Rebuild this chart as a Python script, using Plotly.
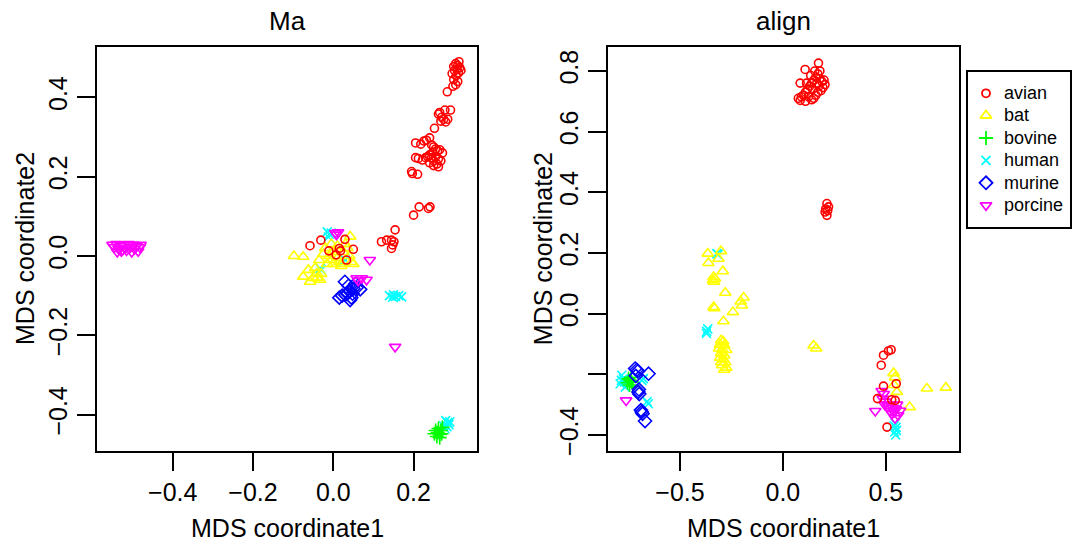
import plotly.graph_objects as go

# ---------------- data: MDS coordinates per host group ----------------
groups = ["avian", "bat", "bovine", "human", "murine", "porcine"]
colors = ["#FF0000", "#FFFF00", "#00FF00", "#00FFFF", "#0000FF", "#FF00FF"]
symbols = ["circle-open", "triangle-up-open", "cross-thin-open",
           "x-thin-open", "diamond-open", "triangle-down-open"]

# panel "Ma"
ma_avian_x = [0.300, 0.305, 0.310, 0.315, 0.308, 0.302, 0.312, 0.318, 0.296, 0.306,
              0.300, 0.310, 0.305, 0.298, 0.313, 0.284, 0.278, 0.292, 0.262, 0.270,
              0.275, 0.268, 0.280, 0.265, 0.285, 0.252, 0.205, 0.218, 0.226, 0.232,
              0.240, 0.245, 0.250, 0.255, 0.260, 0.265, 0.272, 0.248, 0.240, 0.235,
              0.245, 0.255, 0.262, 0.268, 0.250, 0.240, 0.258, 0.250, 0.205, 0.212,
              0.222, 0.230, 0.262, 0.195, 0.197, 0.210, 0.200, 0.214, 0.237, 0.241,
              0.154, 0.120, 0.133, 0.145, 0.145, 0.151, 0.148, -0.058, -0.031, -0.011,
              0.007, 0.015, 0.018, 0.029, 0.050, 0.033]
ma_avian_y = [0.478, 0.485, 0.480, 0.475, 0.470, 0.468, 0.462, 0.468, 0.460, 0.455,
              0.445, 0.440, 0.432, 0.428, 0.490, 0.414, 0.368, 0.368, 0.358, 0.350,
              0.345, 0.340, 0.338, 0.362, 0.345, 0.322, 0.285, 0.282, 0.290, 0.292,
              0.298, 0.280, 0.275, 0.270, 0.265, 0.268, 0.260, 0.262, 0.255, 0.250,
              0.248, 0.250, 0.245, 0.240, 0.240, 0.235, 0.232, 0.228, 0.248, 0.246,
              0.242, 0.248, 0.225, 0.213, 0.208, 0.206, 0.103, 0.124, 0.120, 0.124,
              0.066, 0.036, 0.040, 0.040, 0.019, 0.036, 0.028, 0.026, 0.040, 0.013,
              0.003, 0.019, 0.013, 0.042, 0.017, -0.010]
ma_bat_x = [-0.098, -0.075, -0.075, -0.058, -0.033, -0.041, -0.062, -0.050, -0.045, -0.030,
            -0.020, -0.025, -0.010, -0.005, 0.000, 0.005, 0.010, 0.015, 0.020, 0.025,
            0.030, 0.035, 0.042, 0.040, 0.045, 0.050, 0.020, -0.015, -0.005, 0.010,
            0.000, -0.035, -0.040]
ma_bat_y = [0.000, -0.002, -0.052, -0.065, -0.060, -0.044, -0.035, -0.055, -0.030, -0.045,
            0.020, 0.005, 0.000, -0.010, -0.020, 0.000, -0.005, -0.015, -0.020, 0.010,
            0.030, 0.020, 0.049, 0.000, -0.015, -0.020, -0.025, -0.020, 0.030, 0.025,
            0.010, -0.010, -0.055]
ma_bovine_x = [0.255, 0.260, 0.265, 0.258, 0.268, 0.262, 0.270, 0.252, 0.265, 0.272]
ma_bovine_y = [-0.440, -0.445, -0.450, -0.455, -0.440, -0.435, -0.448, -0.448, -0.458, -0.432]
ma_human_x = [-0.015, -0.010, -0.005, -0.012, -0.033, -0.030, 0.025, 0.030,
              0.140, 0.148, 0.155, 0.163, 0.170, 0.150,
              0.280, 0.285, 0.288, 0.283, 0.278, 0.290, 0.275]
ma_human_y = [0.061, 0.055, 0.058, 0.048, -0.031, -0.035, -0.014, -0.010,
              -0.100, -0.104, -0.102, -0.100, -0.103, -0.098,
              -0.415, -0.420, -0.425, -0.430, -0.435, -0.418, -0.428]
ma_murine_x = [0.029, 0.015, 0.022, 0.042, 0.045, 0.050, 0.058, 0.067, 0.035, 0.040,
               0.048, 0.055, 0.038, 0.030]
ma_murine_y = [-0.065, -0.105, -0.100, -0.111, -0.105, -0.082, -0.080, -0.084, -0.095, -0.088,
               -0.095, -0.070, -0.075, -0.098]
ma_porcine_x = [-0.550, -0.545, -0.540, -0.535, -0.530, -0.528, -0.522, -0.518, -0.515, -0.510,
                -0.505, -0.502, -0.498, -0.495, -0.490, -0.486, -0.482, -0.480, -0.538, -0.525,
                0.005, 0.008, 0.012, 0.058, 0.071, 0.083, 0.062, 0.091, 0.154]
ma_porcine_y = [0.028, 0.022, 0.030, 0.018, 0.025, 0.012, 0.028, 0.020, 0.014, 0.030,
                0.022, 0.010, 0.028, 0.018, 0.025, 0.012, 0.022, 0.028, 0.010, 0.015,
                0.058, 0.054, 0.060, -0.056, -0.056, -0.060, -0.062, -0.010, -0.229]

# panel "align"
al_avian_x = [0.173, 0.108, 0.084, 0.084, 0.075, 0.090, 0.100, 0.110, 0.120, 0.130,
              0.140, 0.150, 0.160, 0.170, 0.180, 0.190, 0.200, 0.205, 0.195, 0.185,
              0.170, 0.160, 0.150, 0.140, 0.125, 0.115, 0.135, 0.155, 0.180, 0.165,
              0.145, 0.175, 0.110,
              0.214, 0.222, 0.214, 0.205, 0.218, 0.208,
              0.526, 0.513, 0.489, 0.478, 0.551, 0.489, 0.460, 0.529, 0.546, 0.506]
al_avian_y = [0.826, 0.805, 0.760, 0.703, 0.710, 0.715, 0.720, 0.730, 0.740, 0.750,
              0.760, 0.770, 0.780, 0.790, 0.775, 0.765, 0.770, 0.755, 0.745, 0.735,
              0.730, 0.720, 0.710, 0.705, 0.715, 0.760, 0.785, 0.800, 0.800, 0.760,
              0.740, 0.750, 0.700,
              0.363, 0.352, 0.324, 0.335, 0.340, 0.345,
              -0.119, -0.123, -0.137, -0.170, -0.231, -0.239, -0.280, -0.284, -0.286, -0.374]
al_bat_x = [-0.365, -0.301, -0.362, -0.313, -0.337, -0.340, -0.330, -0.335, -0.292, -0.280,
            -0.337, -0.333, -0.191, -0.199, -0.205, -0.243, -0.289,
            -0.300, -0.290, -0.305, -0.285, -0.310, -0.295, -0.275, -0.300, -0.285, -0.305,
            -0.290, -0.280, -0.295, -0.275, -0.285, -0.300,
            0.149, 0.162,
            0.538, 0.554, 0.540, 0.616, 0.700, 0.792, 0.545]
al_bat_y = [0.198, 0.206, 0.167, 0.181, 0.121, 0.110, 0.115, 0.105, 0.140, 0.069,
            0.022, 0.018, 0.053, 0.027, 0.040, 0.005, -0.025,
            -0.088, -0.092, -0.102, -0.105, -0.115, -0.118, -0.120, -0.130, -0.138, -0.145,
            -0.150, -0.160, -0.170, -0.178, -0.185, -0.160,
            -0.105, -0.115,
            -0.196, -0.258, -0.235, -0.308, -0.247, -0.244, -0.210]
al_bovine_x = [-0.742, -0.750, -0.735, -0.745, -0.738, -0.755, -0.730]
al_bovine_y = [-0.220, -0.215, -0.225, -0.235, -0.210, -0.228, -0.240]
al_human_x = [-0.321, -0.315, -0.370, -0.365, -0.372,
              -0.783, -0.791, -0.766, -0.775, -0.785, -0.770, -0.678, -0.685, -0.654, -0.660,
              0.546, 0.550, 0.543, 0.548, 0.552, 0.540]
al_human_y = [0.198, 0.195, -0.058, -0.050, -0.065,
              -0.203, -0.231, -0.242, -0.215, -0.220, -0.225, -0.214, -0.220, -0.297, -0.290,
              -0.362, -0.375, -0.390, -0.400, -0.385, -0.370]
al_murine_x = [-0.718, -0.710, -0.705, -0.653, -0.715, -0.702, -0.700, -0.698, -0.686, -0.690,
               -0.682, -0.670]
al_murine_y = [-0.181, -0.185, -0.190, -0.198, -0.205, -0.258, -0.250, -0.265, -0.324, -0.318,
               -0.330, -0.354]
al_porcine_x = [-0.762, 0.449, 0.480, 0.490, 0.485, 0.495, 0.510, 0.520, 0.530, 0.540,
                0.550, 0.560, 0.545, 0.535, 0.525, 0.555, 0.570, 0.500]
al_porcine_y = [-0.286, -0.321, -0.255, -0.265, -0.280, -0.300, -0.305, -0.320, -0.330, -0.325,
                -0.315, -0.335, -0.345, -0.310, -0.300, -0.300, -0.320, -0.290]

ma_data = {
    "avian": (ma_avian_x, ma_avian_y), "bat": (ma_bat_x, ma_bat_y),
    "bovine": (ma_bovine_x, ma_bovine_y), "human": (ma_human_x, ma_human_y),
    "murine": (ma_murine_x, ma_murine_y), "porcine": (ma_porcine_x, ma_porcine_y),
}
al_data = {
    "avian": (al_avian_x, al_avian_y), "bat": (al_bat_x, al_bat_y),
    "bovine": (al_bovine_x, al_bovine_y), "human": (al_human_x, al_human_y),
    "murine": (al_murine_x, al_murine_y), "porcine": (al_porcine_x, al_porcine_y),
}

# tick labels
ma_xticks = [-0.4, -0.2, 0.0, 0.2]
ma_yticks = [-0.4, -0.2, 0.0, 0.2, 0.4]
al_xticks = [-0.5, 0.0, 0.5]
al_yticks = [-0.4, -0.2, 0.0, 0.2, 0.4, 0.6, 0.8]
al_ytick_text = ["\u22120.4", "", "0.0", "0.2", "0.4", "0.6", "0.8"]


def fmt(v, nd):
    s = f"{abs(v):.{nd}f}"
    return ("\u2212" + s) if v < 0 else s


# ---------------- figure ----------------
W, H = 1080, 543
FONT = "Liberation Sans, Arial, Helvetica, sans-serif"
sizes = {"circle-open": 8, "triangle-up-open": 10, "cross-thin-open": 10,
         "x-thin-open": 9, "diamond-open": 10, "triangle-down-open": 10}
style = {g: (c, s) for g, c, s in zip(groups, colors, symbols)}
draw_order = ["human", "bovine", "bat", "murine", "porcine", "avian"]

fig = go.Figure()
for data, xa, ya in [(ma_data, "x", "y"), (al_data, "x2", "y2")]:
    for g in draw_order:
        c, s = style[g]
        xs, ys = data[g]
        fig.add_trace(go.Scatter(
            x=xs, y=ys, mode="markers", name=g, showlegend=False,
            xaxis=xa, yaxis=ya,
            marker=dict(symbol=s, size=sizes[s], color=c,
                        line=dict(color=c, width=1.6)),
        ))

# legend drawn in its own small axis
leg_rows = [93.3, 115.5, 138.0, 160.3, 182.8, 205.3]
for g, yrow in zip(groups, leg_rows):
    c, s = style[g]
    fig.add_trace(go.Scatter(
        x=[986], y=[yrow], mode="markers", showlegend=False,
        xaxis="x3", yaxis="y3",
        marker=dict(symbol=s, size=sizes[s], color=c, line=dict(color=c, width=1.8)),
    ))

axis_common = dict(
    showgrid=False, zeroline=False, showline=True, mirror=True,
    linecolor="black", linewidth=2, ticks="outside", ticklen=18, tickwidth=2,
    tickcolor="black", tickfont=dict(family=FONT, size=25, color="black"),
    automargin=False,
)

L1, R1, T1, B1 = 97, 477, 47, 451
L2, R2, T2, B2 = 608.3, 959, 46.7, 450.7

fig.update_layout(
    width=W, height=H, margin=dict(l=0, r=0, t=0, b=0),
    paper_bgcolor="white", plot_bgcolor="white",
    xaxis=dict(domain=[L1 / W, R1 / W], range=[-0.5886, 0.358], anchor="y",
               tickvals=ma_xticks, ticktext=[fmt(v, 1) for v in ma_xticks], **axis_common),
    yaxis=dict(domain=[1 - B1 / H, 1 - T1 / H], range=[-0.4916, 0.527], anchor="x",
               tickvals=ma_yticks, ticktext=[fmt(v, 1) for v in ma_yticks],
               tickangle=-90, **axis_common),
    xaxis2=dict(domain=[L2 / W, R2 / W], range=[-0.8486, 0.856], anchor="y2",
                tickvals=al_xticks, ticktext=[fmt(v, 1) for v in al_xticks], **axis_common),
    yaxis2=dict(domain=[1 - B2 / H, 1 - T2 / H], range=[-0.4518, 0.880], anchor="x2",
                tickvals=al_yticks, ticktext=al_ytick_text, tickangle=-90, **axis_common),
    xaxis3=dict(domain=[968 / W, 1070 / W], range=[968, 1070], anchor="y3",
                showline=True, mirror=True, linecolor="black", linewidth=2,
                showgrid=False, zeroline=False, showticklabels=False, ticks=""),
    yaxis3=dict(domain=[1 - 227 / H, 1 - 71.7 / H], range=[227, 71.7], anchor="x3",
                showline=True, mirror=True, linecolor="black", linewidth=2,
                showgrid=False, zeroline=False, showticklabels=False, ticks=""),
)

ann = []
for g, yrow in zip(groups, leg_rows):
    ann.append(dict(x=1002, y=yrow, xref="x3", yref="y3", text=g, showarrow=False,
                    xanchor="left", yanchor="middle",
                    font=dict(family=FONT, size=18, color="black")))
# panel titles
for txt, cx in [("Ma", (L1 + R1) / 2), ("align", (L2 + R2) / 2)]:
    ann.append(dict(x=cx / W, y=1 - 21 / H, xref="paper", yref="paper", text=txt,
                    showarrow=False, xanchor="center", yanchor="middle",
                    font=dict(family=FONT, size=26, color="black")))
# axis titles
for cx in [(L1 + R1) / 2, (L2 + R2) / 2]:
    ann.append(dict(x=cx / W, y=1 - 527.5 / H, xref="paper", yref="paper",
                    text="MDS coordinate1", showarrow=False, xanchor="center",
                    yanchor="middle", font=dict(family=FONT, size=25, color="black")))
for cx, (t, b) in [(25, (T1, B1)), (542.5, (T2, B2))]:
    ann.append(dict(x=cx / W, y=1 - (t + b) / 2 / H, xref="paper", yref="paper",
                    text="MDS coordinate2", showarrow=False, textangle=-90,
                    xanchor="center", yanchor="middle",
                    font=dict(family=FONT, size=25, color="black")))
fig.update_layout(annotations=ann)

fig.write_html("out.html")
